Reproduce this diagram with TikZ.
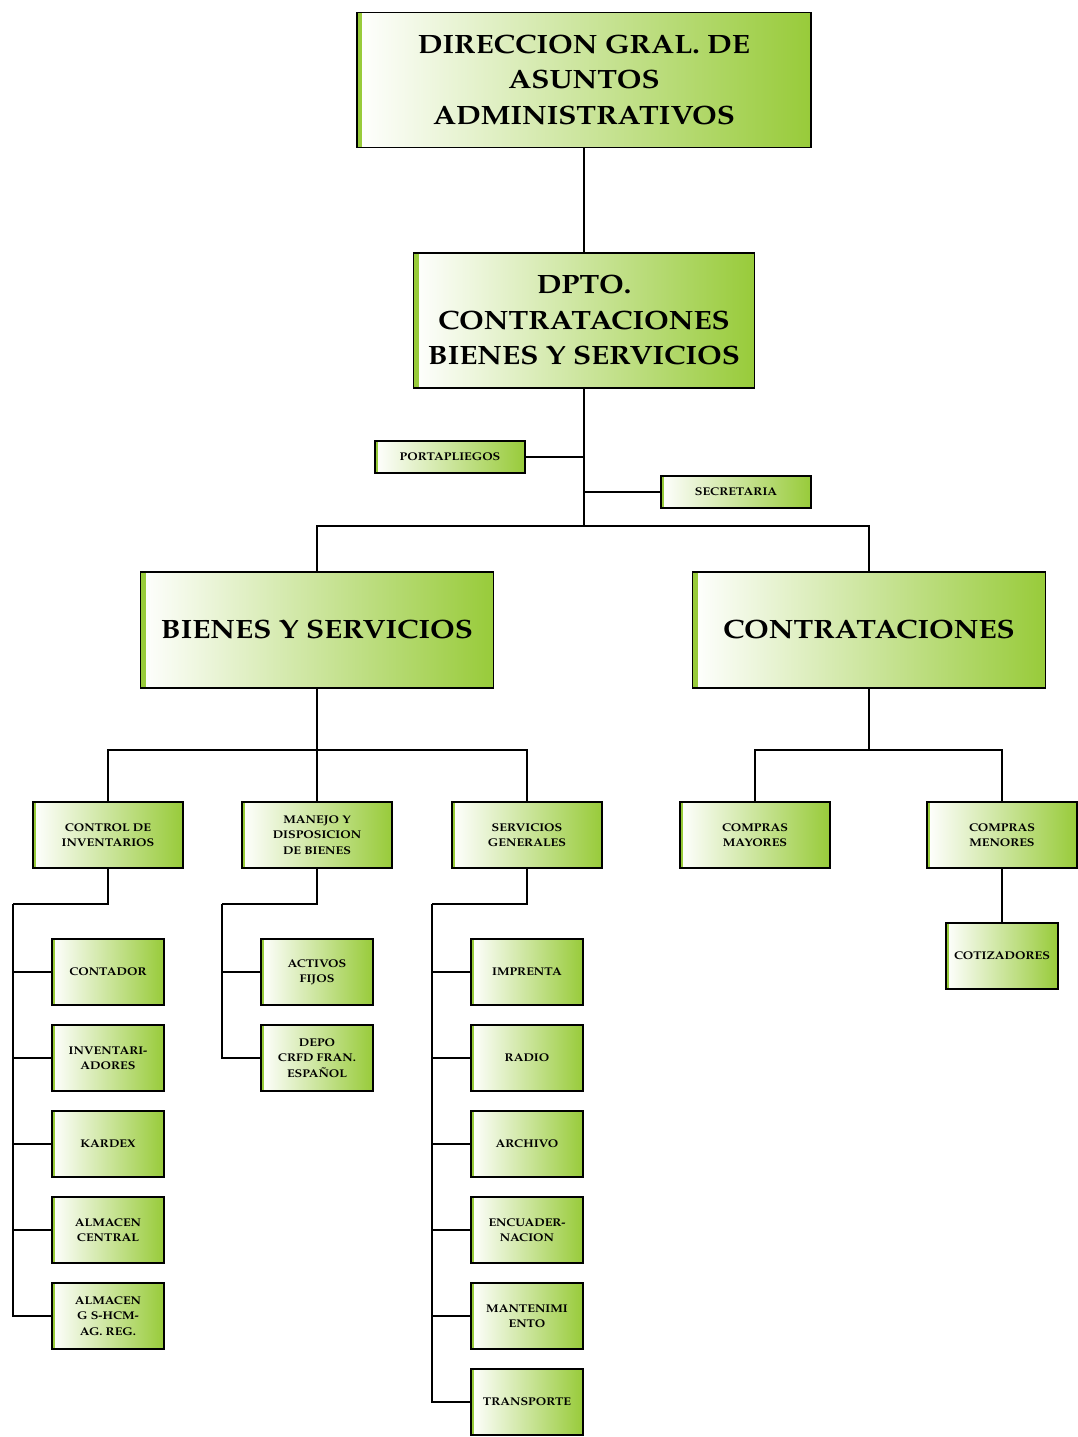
\documentclass[tikz,border=0pt]{standalone}
\usepackage{fontspec}
\setmainfont{TeX Gyre Pagella}[FakeStretch=1.12]
\definecolor{leafgreen}{RGB}{152,203,58}
\tikzset{
  x=1pt, y=-1pt,
  unit/.style={draw=black, line width=1.8pt, align=center, inner sep=2pt,
    left color=white, middle color=leafgreen!38, right color=leafgreen,
    font=\bfseries,
    path picture={\fill[leafgreen] (path picture bounding box.south west)
       rectangle ([xshift=#1]path picture bounding box.north west);}},
  unit/.default=5pt,
  bigunit/.style={unit=5pt, font=\fontsize{26.5}{35.5}\selectfont\bfseries},
  smalltext/.style={font=\fontsize{11.2}{15.2}\selectfont\bfseries},
  smallunit/.style={unit=3pt, smalltext, minimum width=150pt, minimum height=66pt},
  leafunit/.style={unit=3pt, smalltext, minimum width=112pt, minimum height=66pt},
  stripunit/.style={unit=3pt, smalltext, minimum width=150pt, minimum height=32pt},
  link/.style={line width=1.6pt, black}
}
\begin{document}
\begin{tikzpicture}
\useasboundingbox (0,0) rectangle (1078,1437);

% top levels
\node[bigunit, minimum width=454pt, minimum height=135pt] (dir) at (584,80)
  {DIRECCION GRAL. DE\\ASUNTOS\\ADMINISTRATIVOS};
\node[bigunit, minimum width=341pt, minimum height=135pt] (dpto) at (584,320.5)
  {DPTO.\\CONTRATACIONES\\BIENES Y SERVICIOS};
\node[stripunit] (porta) at (450,457) {PORTAPLIEGOS};
\node[stripunit] (secre) at (736,492) {SECRETARIA};
\coordinate (hub) at (584,526);

\node[bigunit, minimum width=353pt, minimum height=116pt] (bys) at (317,630)
  {BIENES Y SERVICIOS};
\node[bigunit, minimum width=353pt, minimum height=116pt] (contr) at (869,630)
  {CONTRATACIONES};

% third level
\node[smallunit] (ctrl) at (108,835) {CONTROL DE\\INVENTARIOS};
\node[smallunit] (manejo) at (317,835) {MANEJO Y\\DISPOSICION\\DE BIENES};
\node[smallunit] (servg) at (527,835) {SERVICIOS\\GENERALES};
\node[smallunit] (cmay) at (755,835) {COMPRAS\\MAYORES};
\node[smallunit] (cmen) at (1002,835) {COMPRAS\\MENORES};
\node[leafunit] (cotiz) at (1002,956) {COTIZADORES};

% control de inventarios
\node[leafunit] (contador) at (108,972) {CONTADOR};
\node[leafunit] (invent) at (108,1058) {INVENTARI-\\ADORES};
\node[leafunit] (kardex) at (108,1144) {KARDEX};
\node[leafunit] (almc) at (108,1230) {ALMACEN\\CENTRAL};
\node[leafunit] (almg) at (108,1316) {ALMACEN\\G S-HCM-\\AG. REG.};

% manejo y disposicion
\node[leafunit] (activos) at (317,972) {ACTIVOS\\FIJOS};
\node[leafunit] (depo) at (317,1058) {DEPO\\CRFD FRAN.\\ESPAÑOL};

% servicios generales
\node[leafunit] (impr) at (527,972) {IMPRENTA};
\node[leafunit] (radio) at (527,1058) {RADIO};
\node[leafunit] (arch) at (527,1144) {ARCHIVO};
\node[leafunit] (encu) at (527,1230) {ENCUADER-\\NACION};
\node[leafunit] (mant) at (527,1316) {MANTENIMI\\ENTO};
\node[leafunit] (transp) at (527,1402) {TRANSPORTE};

% bus corners
\coordinate (busA) at (13,904);
\coordinate (busB) at (222,904);
\coordinate (busC) at (432,904);
\coordinate (busBys) at (317,750);
\coordinate (busCon) at (869,750);

% connectors
\draw[link] (dir.south) -- (dpto.north);
\draw[link] (dpto.south) -- (hub);
\draw[link] (porta.east) -- (porta.east -| hub);
\draw[link] (secre.west) -- (secre.west -| hub);
\draw[link] (bys.north) |- (hub) -| (contr.north);

\draw[link] (bys.south) -- (busBys);
\draw[link] (ctrl.north) |- (busBys) -| (servg.north);
\draw[link] (manejo.north) -- (busBys);
\draw[link] (contr.south) -- (busCon);
\draw[link] (cmay.north) |- (busCon) -| (cmen.north);
\draw[link] (cmen.south) -- (cotiz.north);

\draw[link] (ctrl.south) |- (busA);
\foreach \n in {contador,invent,kardex,almc,almg}
  \draw[link] (busA) |- (\n.west);
\draw[link] (manejo.south) |- (busB);
\foreach \n in {activos,depo}
  \draw[link] (busB) |- (\n.west);
\draw[link] (servg.south) |- (busC);
\foreach \n in {impr,radio,arch,encu,mant,transp}
  \draw[link] (busC) |- (\n.west);
\end{tikzpicture}
\end{document}
